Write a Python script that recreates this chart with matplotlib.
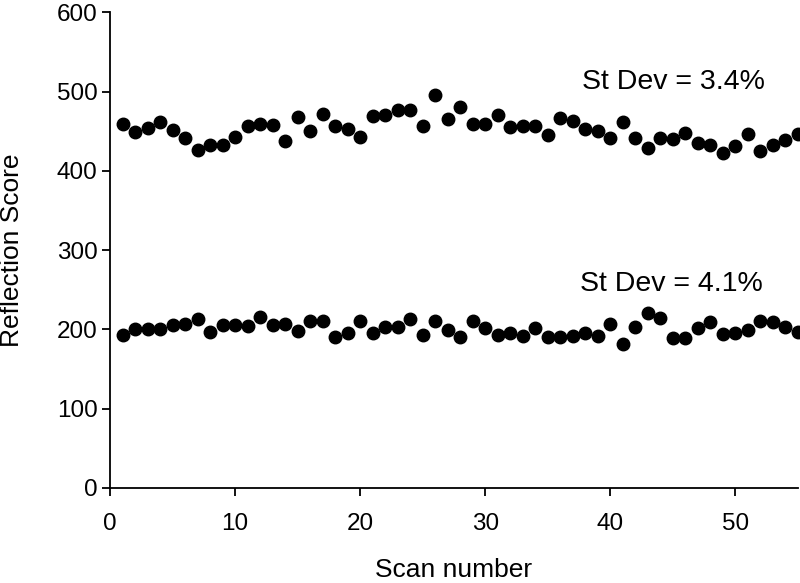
import numpy as np
import matplotlib
matplotlib.use("Agg")
import matplotlib.pyplot as plt

plt.rcParams["font.family"] = ["Liberation Sans", "DejaVu Sans"]

# scan numbers 1..55
scans = list(range(1, 56))

# upper series (St Dev = 3.4%)
upper = [459, 449, 454, 461, 451, 442, 426, 432, 433, 443,
         456, 459, 458, 437, 468, 450, 472, 456, 453, 443,
         469, 470, 477, 477, 457, 496, 465, 480, 459, 459,
         470, 455, 456, 456, 445, 466, 463, 453, 450, 441,
         462, 441, 429, 442, 440, 448, 435, 433, 422, 431,
         447, 425, 433, 439, 446]

# lower series (St Dev = 4.1%)
lower = [193, 201, 200, 201, 206, 207, 213, 197, 206, 206,
         204, 216, 205, 207, 198, 210, 210, 190, 196, 211,
         195, 203, 203, 213, 193, 210, 199, 191, 210, 202,
         193, 196, 192, 202, 191, 191, 192, 195, 192, 207,
         182, 203, 221, 214, 189, 189, 202, 209, 194, 196,
         199, 210, 209, 203, 197]

labels = ["St Dev = 3.4%", "St Dev = 4.1%"]

fig = plt.figure(figsize=(8.0, 5.83), dpi=100)
ax = fig.add_axes([0.1375, 0.163, 0.86, 0.816])

ax.plot(scans, upper, "o", color="black", markersize=9, clip_on=False)
ax.plot(scans, lower, "o", color="black", markersize=9, clip_on=False)

ax.text(37.7, 512, labels[0], fontsize=20.5, ha="left", va="center")
ax.text(37.6, 257, labels[1], fontsize=20.5, ha="left", va="center")

ax.set_xlim(0, 55)
ax.set_ylim(0, 600)
ax.set_xticks(np.arange(0, 51, 10))
ax.set_yticks(np.arange(0, 601, 100))

for side in ("top", "right"):
    ax.spines[side].set_visible(False)
for side in ("left", "bottom"):
    ax.spines[side].set_linewidth(1.3)

ax.tick_params(direction="out", length=6, width=1.3, labelsize=17.5)
ax.tick_params(axis="x", pad=12)
ax.tick_params(axis="y", pad=3)
ax.set_xlabel("Scan number", fontsize=19)
ax.set_ylabel("Reflection Score", fontsize=19)
ax.xaxis.set_label_coords(0.5, -0.148)
ax.yaxis.set_label_coords(-0.125, 0.5)

fig.savefig("out.png", dpi=100)
